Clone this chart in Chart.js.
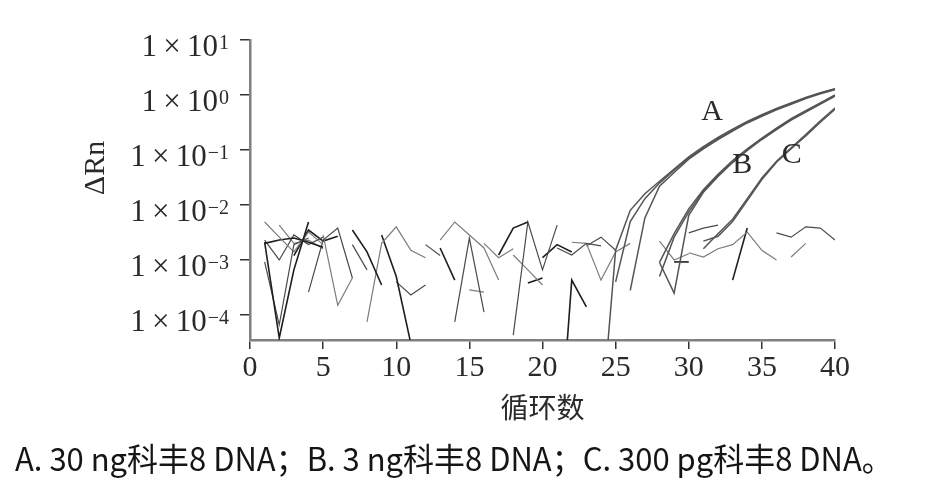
<!DOCTYPE html>
<html>
<head>
<meta charset="utf-8">
<script src="https://cdn.jsdelivr.net/npm/chart.js@4"></script>
<style>
  html, body { margin: 0; padding: 0; background: #fff; }
  #wrap { position: relative; width: 932px; height: 490px; overflow: hidden; }
  #chart { position: absolute; left: 0; top: 0; }
  #caption {
    position: absolute; left: 15px; top: 441px;
    font-family: "Noto Sans CJK SC", sans-serif; font-size: 32px; line-height: 32px;
    white-space: nowrap; transform-origin: 0 0; color: #151515;
  }
</style>
</head>
<body>
<div id="wrap">
  <canvas id="chart" width="932" height="440"></canvas>
  <div id="caption">A. 30 ng科丰8 DNA；B. 3 ng科丰8 DNA；C. 300 pg科丰8 DNA。</div>
</div>
<script>
// axis ticks
const xTicks = [0, 5, 10, 15, 20, 25, 30, 35, 40];
const yTicks = [10, 1, 0.1, 0.01, 0.001, 0.0001];
const yTickExp = ['1', '0', '\u22121', '\u22122', '\u22123', '\u22124'];
const xTitle = '循环数';
const yTitle = '\u0394Rn';

// baseline noise traces: first cycle of each trace, then ΔRn per cycle
const noiseStarts = [1, 1, 1, 1, 4, 5, 7, 7, 8, 9, 10, 13, 13, 14, 15, 17, 18, 18, 19, 21, 22, 21, 30, 30, 33, 36, 37, 29,
                     1, 2, 3, 12, 16, 20, 23, 28];
const noiseValues = [
  [2.1e-3, 3.8e-5, 6.6e-4, 4.9e-3],
  [9.2e-4, 6.6e-5, 1.9e-3, 2.5e-3],
  [4.9e-3, 2.6e-3, 1.4e-3, 3.2e-3, 1.9e-3],
  [2.0e-3, 2.3e-3, 2.5e-3, 2.1e-3, 1.7e-3],
  [2.6e-4, 2.3e-3, 3.8e-3, 4.7e-4],
  [2.85e-3, 1.5e-4, 4.7e-4],
  [3.5e-3, 1.4e-3, 3.5e-4],
  [1.9e-3, 6.6e-4],
  [7.5e-5, 2.0e-3, 4.0e-3, 1.5e-3, 1.1e-3],
  [2.85e-3, 5.0e-4, 3.0e-5],
  [4.0e-4, 2.3e-4, 3.5e-4],
  [2.3e-3, 4.9e-3, 2.85e-3, 1.65e-3, 4.3e-4],
  [1.65e-3, 4.3e-4],
  [7.5e-5, 2.5e-3, 1.13e-4],
  [2.85e-4, 2.6e-4],
  [1.23e-3, 3.8e-3, 4.9e-3],
  [4.3e-5, 4.9e-3, 6.6e-4, 4.3e-3],
  [1.23e-3, 6.6e-4, 3.5e-4],
  [3.8e-4, 4.7e-4],
  [1.65e-3, 1.23e-3, 2.0e-3, 1.8e-3],
  [2.1e-3, 2.0e-3, 4.3e-4, 1.4e-3, 2.0e-3],
  [1e-7, 4.3e-4, 1.4e-4],
  [3.1e-3, 3.8e-3, 4.3e-3],
  [1.35e-3, 1.13e-3, 1.6e-3, 1.9e-3, 3.2e-3, 1.5e-3, 1.0e-3],
  [4.3e-4, 3.8e-3],
  [3.1e-3, 2.6e-3, 4.0e-3, 3.8e-3, 2.3e-3],
  [1.13e-3, 2.0e-3],
  [9.2e-4, 9.2e-4],
  [2.3e-3, 1.0e-3, 2.85e-3, 1.9e-3, 2.6e-3],
  [4.3e-3, 2.0e-3, 2.3e-3, 1.6e-3],
  [1.2e-3, 3.5e-3, 2.2e-3, 2.7e-3],
  [1.9e-3, 1.2e-3],
  [2.0e-3, 1.1e-3, 1.6e-3],
  [1.1e-3, 1.9e-3, 1.4e-3],
  [1.8e-3, 2.6e-3, 1.5e-3],
  [2.2e-3, 1.0e-3, 1.3e-3]
];

// amplification curves (replicates), first cycle then ΔRn per cycle
const curveStarts = [24, 26, 25, 28, 28, 28, 31, 31];
const curveValues = [
  [1e-6, 1.5e-3, 8e-3, 0.016, 0.027, 0.045, 0.075, 0.115, 0.17, 0.24, 0.33, 0.44, 0.57, 0.72, 0.9, 1.1, 1.3],
  [2.8e-4, 5.8e-3, 0.022, 0.039, 0.068, 0.105, 0.155, 0.22, 0.31, 0.41, 0.54, 0.68, 0.86, 1.05, 1.25],
  [4e-4, 5e-3, 0.013, 0.025, 0.043, 0.071, 0.11, 0.162, 0.23, 0.32, 0.425, 0.555, 0.7, 0.88, 1.08, 1.28],
  [9e-4, 3.0e-3, 8.5e-3, 0.019, 0.036, 0.064, 0.105, 0.165, 0.25, 0.37, 0.52, 0.72, 1.0],
  [9e-4, 2.5e-4, 6.5e-3, 0.017, 0.033, 0.059, 0.098, 0.155, 0.235, 0.35, 0.49, 0.68, 0.95],
  [5e-4, 2.6e-3, 7.5e-3, 0.018, 0.034, 0.061, 0.1, 0.16, 0.242, 0.36, 0.505, 0.7, 0.97],
  [1.6e-3, 3e-3, 5.5e-3, 0.013, 0.031, 0.062, 0.11, 0.19, 0.34, 0.58],
  [2.2e-3, 2.7e-3, 5e-3, 0.012, 0.029, 0.06, 0.105, 0.18, 0.32, 0.55]
];

// curve labels
const labelNames = ['A', 'B', 'C'];
const labelX = [31.6, 33.65, 37.05];
const labelY = [0.49, 0.053, 0.081];

const noiseColors = ['#1e1e1e', '#4a4a4a', '#7c7c7c'];

function toPoints(start, values) {
  return values.map((v, i) => ({ x: start + i, y: v }));
}

const datasets = [];
curveValues.forEach((vals, i) => {
  datasets.push({
    data: toPoints(curveStarts[i], vals),
    borderColor: '#555', borderWidth: 1.5
  });
});
noiseValues.forEach((vals, i) => {
  datasets.push({
    data: toPoints(noiseStarts[i], vals),
    borderColor: noiseColors[i % 3], borderWidth: i % 3 === 0 ? 1.6 : 1.2
  });
});
datasets.forEach(d => {
  d.pointRadius = 0;
  d.tension = 0;
  d.fill = false;
  d.spanGaps = false;
});

const textPlugin = {
  id: 'textPlugin',
  afterDraw(chart) {
    const { ctx, scales: { x, y } } = chart;
    ctx.save();
    ctx.fillStyle = '#2a2a2a';
    // y tick labels with superscript exponent
    const right = y.right - 21;
    yTicks.forEach((v, i) => {
      const py = y.getPixelForValue(v);
      ctx.font = '20px "Liberation Serif"';
      const ew = ctx.measureText(yTickExp[i]).width;
      ctx.textAlign = 'left';
      ctx.textBaseline = 'alphabetic';
      ctx.fillText(yTickExp[i], right - ew, py + 9);
      ctx.font = '31px "Liberation Serif"';
      ctx.textAlign = 'right';
      ctx.fillText('1\u2009\u00d7\u200910', right - ew - 1, py + 16);
    });
    // y axis title
    ctx.save();
    ctx.translate(96, 168);
    ctx.rotate(-Math.PI / 2);
    ctx.font = '30px "Liberation Serif"';
    ctx.textAlign = 'center';
    ctx.textBaseline = 'middle';
    ctx.fillText(yTitle, 0, 0);
    ctx.restore();
    // curve labels
    ctx.font = '30px "Liberation Serif"';
    ctx.textAlign = 'center';
    ctx.textBaseline = 'middle';
    labelNames.forEach((t, i) => {
      ctx.fillText(t, x.getPixelForValue(labelX[i]), y.getPixelForValue(labelY[i]));
    });
    ctx.restore();
  }
};

new Chart(document.getElementById('chart').getContext('2d'), {
  type: 'line',
  data: { datasets },
  options: {
    responsive: false,
    animation: false,
    layout: { padding: { left: 0, right: 97, top: 40, bottom: 0 } },
    plugins: { legend: { display: false }, tooltip: { enabled: false } },
    scales: {
      x: {
        type: 'linear', min: 0, max: 40,
        afterBuildTicks: s => { s.ticks = xTicks.map(v => ({ value: v })); },
        afterFit: s => { s.height = 100; },
        border: { color: '#808080', width: 2.5 },
        grid: { drawOnChartArea: false, tickLength: 9, color: '#333', lineWidth: 1.5 },
        ticks: {
          font: { family: 'Liberation Serif', size: 30 }, color: '#2a2a2a',
          padding: 1, maxRotation: 0, autoSkip: false
        },
        title: {
          display: true, text: xTitle, color: '#2a2a2a',
          font: { family: 'Noto Sans CJK SC', size: 28 },
          padding: { top: 0, bottom: 16 }
        }
      },
      y: {
        type: 'logarithmic', min: 3.5e-5, max: 10,
        afterBuildTicks: s => { s.ticks = yTicks.map(v => ({ value: v })); },
        afterFit: s => { s.width = 250; },
        border: { color: '#808080', width: 2.5 },
        grid: { drawOnChartArea: false, tickLength: 10, color: '#333', lineWidth: 1.5 },
        ticks: { display: false }
      }
    }
  },
  plugins: [textPlugin]
});

// squeeze the caption to the reference's condensed width
function fitCaption() {
  const el = document.getElementById('caption');
  el.style.transform = 'none';
  el.style.transform = 'scaleX(' + (878 / el.offsetWidth) + ')';
}
fitCaption();
if (document.fonts) document.fonts.ready.then(fitCaption);
</script>
</body>
</html>
